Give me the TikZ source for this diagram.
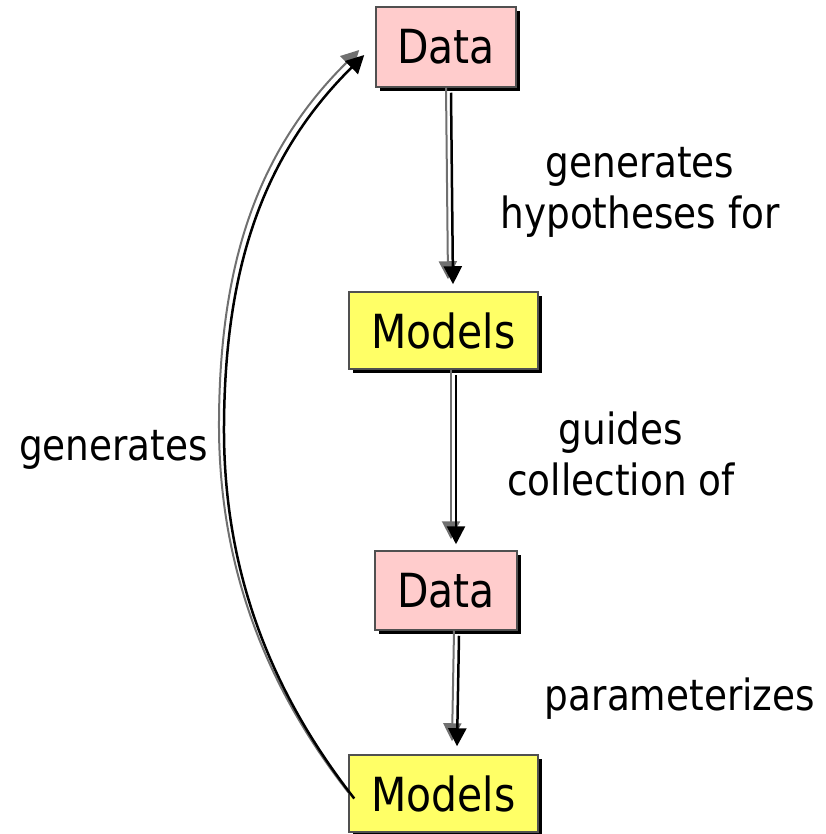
\documentclass[tikz,border=0pt]{standalone}
\usepackage{fontspec}
\setmainfont{DejaVu Sans}[FakeStretch=0.87]
\usetikzlibrary{arrows.meta}

\definecolor{datapink}{HTML}{FFCCCC}
\definecolor{modelyellow}{HTML}{FFFF66}
\definecolor{linegray}{HTML}{707070}
\definecolor{edgegray}{HTML}{505050}

\tikzset{
  txt/.style={font=\fontsize{43pt}{51pt}\selectfont, inner sep=0pt},
  box/.style={font=\fontsize{47pt}{56pt}\selectfont, inner sep=0pt,
    draw=edgegray, line width=1.5pt,
    preaction={fill=black, transform canvas={shift={(4pt,-4pt)}}}},
  databox/.style={box, fill=datapink},
  modelbox/.style={box, fill=modelyellow},
  conn/.style={draw=linegray, line width=2pt,
    -{Triangle[length=18pt,width=18pt]},
    postaction={draw=black, line width=2.5pt,
      transform canvas={shift={(5pt,-5pt)}}}},
  lbl/.style={txt, align=center}
}

\begin{document}
\begin{tikzpicture}[x=1pt, y=-1pt]
  \useasboundingbox (0,0) rectangle (825,834);

  % the four stages
  \node[databox,  minimum width=140pt, minimum height=80pt] (d1) at (446,47)    {Data};
  \node[modelbox, minimum width=189pt, minimum height=77pt] (m1) at (443.5,330.5) {Models};
  \node[databox,  minimum width=142pt, minimum height=79pt] (d2) at (446,590.5) {Data};
  \node[modelbox, minimum width=189pt, minimum height=77pt] (m2) at (443.5,793.5) {Models};

  % downward chain
  \draw[conn] (d1.south) -- ([xshift=4.5pt,yshift=12pt]m1.north);
  \draw[conn] ([xshift=7.5pt]m1.south) -- ([xshift=5pt,yshift=11pt]d2.north);
  \draw[conn] ([xshift=8pt]d2.south) -- ([xshift=8.5pt,yshift=13pt]m2.north);

  % feedback loop
  \draw[conn] ([xshift=1pt]m2.west)
    .. controls (262,682) and (218,560) .. (219,420)
    .. controls (220,262) and (258,150) .. ([xshift=-16pt,yshift=-3pt]d1.west);

  % edge labels
  \node[lbl] (l1) at (640,192) {generates\\hypotheses for};
  \node[lbl] (l2) at (621,454) {guides\\collection of};
  \node[txt, anchor=base] (l3) at (680,710) {parameterizes};
  \node[txt, anchor=base] (l4) at (113.5,460) {generates};
\end{tikzpicture}
\end{document}
